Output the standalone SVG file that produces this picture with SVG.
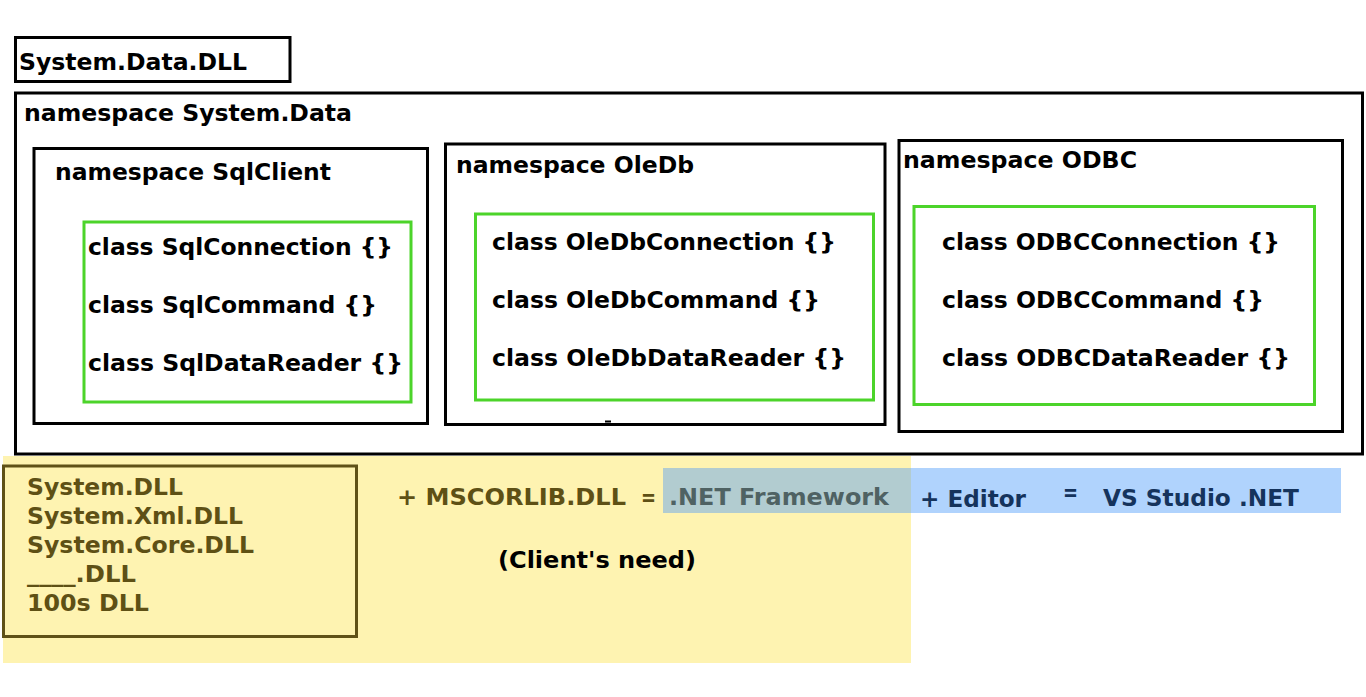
<svg xmlns="http://www.w3.org/2000/svg" width="1366" height="697" viewBox="0 0 1366 697">
<style>
  text { font-family: "DejaVu Sans", Verdana, sans-serif; font-weight: bold; font-size: 23.5px; }
  .blk { fill: none; stroke: #000; stroke-width: 3; }
  .grn { fill: none; stroke: #4cd42a; stroke-width: 3; }
  .t { fill: #000; }
  .olive { fill: #5e5015; }
  .navy { fill: #15335c; }
  .grey { fill: #4f6263; }
</style>
<rect x="0" y="0" width="1366" height="697" fill="#fff"/>
<g id="dll-title">
  <rect class="blk" x="15.5" y="37.5" width="274.5" height="44"/>
  <text class="t" x="19" y="70" textLength="228" lengthAdjust="spacingAndGlyphs">System.Data.DLL</text>
</g>
<g id="ns-system-data">
  <rect class="blk" x="15.5" y="93" width="1347" height="361"/>
  <text class="t" x="24" y="121" textLength="328" lengthAdjust="spacingAndGlyphs">namespace System.Data</text>
</g>
<g id="ns-sqlclient">
  <rect class="blk" x="34" y="148.5" width="393.5" height="275"/>
  <text class="t" x="55" y="180" textLength="276" lengthAdjust="spacingAndGlyphs">namespace SqlClient</text>
</g>
<g id="sql-classes">
  <rect class="grn" x="84" y="222" width="327" height="180"/>
  <text class="t" x="88" y="255" textLength="305" lengthAdjust="spacingAndGlyphs">class SqlConnection {}</text>
  <text class="t" x="88" y="313" textLength="289" lengthAdjust="spacingAndGlyphs">class SqlCommand {}</text>
  <text class="t" x="88" y="371" textLength="315" lengthAdjust="spacingAndGlyphs">class SqlDataReader {}</text>
</g>
<g id="ns-oledb">
  <rect class="blk" x="445.5" y="144" width="439.5" height="280.5"/>
  <rect x="605" y="420.5" width="6" height="2" fill="#000"/>
  <text class="t" x="456" y="173" textLength="238" lengthAdjust="spacingAndGlyphs">namespace OleDb</text>
</g>
<g id="oledb-classes">
  <rect class="grn" x="475.5" y="214" width="398" height="186"/>
  <text class="t" x="492" y="250" textLength="344" lengthAdjust="spacingAndGlyphs">class OleDbConnection {}</text>
  <text class="t" x="492" y="308" textLength="328" lengthAdjust="spacingAndGlyphs">class OleDbCommand {}</text>
  <text class="t" x="492" y="366" textLength="354" lengthAdjust="spacingAndGlyphs">class OleDbDataReader {}</text>
</g>
<g id="ns-odbc">
  <rect class="blk" x="899" y="140.5" width="443.5" height="291"/>
  <text class="t" x="903" y="168" textLength="234" lengthAdjust="spacingAndGlyphs">namespace ODBC</text>
</g>
<g id="odbc-classes">
  <rect class="grn" x="914" y="206.5" width="400.5" height="198"/>
  <text class="t" x="942" y="250" textLength="338" lengthAdjust="spacingAndGlyphs">class ODBCConnection {}</text>
  <text class="t" x="942" y="308" textLength="322" lengthAdjust="spacingAndGlyphs">class ODBCCommand {}</text>
  <text class="t" x="942" y="366" textLength="348" lengthAdjust="spacingAndGlyphs">class ODBCDataReader {}</text>
</g>
<g id="client-need">
  <rect x="3" y="456" width="908" height="207" fill="#fef3b1"/>
  <rect x="3.5" y="466" width="353" height="170.5" fill="none" stroke="#5f5117" stroke-width="3"/>
  <text class="olive" x="27" y="495" textLength="156" lengthAdjust="spacingAndGlyphs">System.DLL</text>
  <text class="olive" x="27" y="524" textLength="216" lengthAdjust="spacingAndGlyphs">System.Xml.DLL</text>
  <text class="olive" x="27" y="553" textLength="227" lengthAdjust="spacingAndGlyphs">System.Core.DLL</text>
  <text class="olive" x="27" y="582" textLength="109" lengthAdjust="spacingAndGlyphs">____.DLL</text>
  <text class="olive" x="27" y="611" textLength="122" lengthAdjust="spacingAndGlyphs">100s DLL</text>
  <text class="olive" x="397" y="505" textLength="229" lengthAdjust="spacingAndGlyphs">+ MSCORLIB.DLL</text>
  <text class="olive" x="641" y="505" textLength="15" lengthAdjust="spacingAndGlyphs">=</text>
  <text class="t" x="498" y="568" textLength="198" lengthAdjust="spacingAndGlyphs">(Client's need)</text>
</g>
<g id="vs-studio">
  <rect x="911" y="468" width="430" height="45" fill="#b0d3fd"/>
  <rect x="663" y="468" width="248" height="45" fill="#b2ccd0"/>
  <text class="grey" x="669" y="505" textLength="220" lengthAdjust="spacingAndGlyphs">.NET Framework</text>
  <text class="navy" x="920" y="507" textLength="106" lengthAdjust="spacingAndGlyphs">+ Editor</text>
  <text class="navy" x="1063" y="500" textLength="15" lengthAdjust="spacingAndGlyphs">=</text>
  <text class="navy" x="1103" y="506" textLength="196" lengthAdjust="spacingAndGlyphs">VS Studio .NET</text>
</g>
<g id="connectors"/>
</svg>
